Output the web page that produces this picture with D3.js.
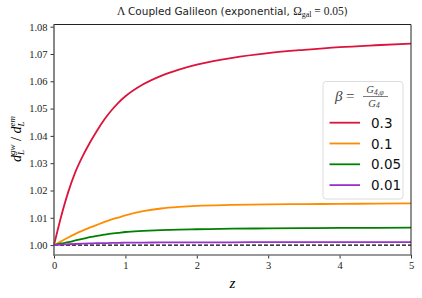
<!doctype html>
<html lang="en">
<head>
<meta charset="UTF-8">
<title>d3</title>
<script src="https://d3js.org/d3.v7.min.js"></script>
<style>
  body { margin: 0; background: #fff; }
  .tick text { font-family: "Liberation Serif", "DejaVu Serif", serif; font-size: 10.5px; fill: #222; }
  .math { font-family: "Liberation Serif", "DejaVu Serif", serif; font-style: italic; }
</style>
</head>
<body>
<div class="canvas"></div>
<script>
  // values
  const zs = [0, 0.1, 0.2, 0.3, 0.4, 0.5, 0.6, 0.7, 0.8, 0.9, 1, 1.25, 1.5, 1.75, 2, 2.5, 3, 3.5, 4, 4.5, 5];
  const beta03 = [1.0, 1.0105, 1.0195, 1.0268, 1.0325, 1.0374, 1.0418, 1.0458, 1.0492, 1.0521, 1.0545, 1.0589, 1.062, 1.0643, 1.0661, 1.0686, 1.0703, 1.0715, 1.0725, 1.0732, 1.0738];
  const beta01 = [1.0, 1.0014, 1.0028, 1.0041, 1.0053, 1.0064, 1.0074, 1.0084, 1.0093, 1.0101, 1.0109, 1.0124, 1.0134, 1.014, 1.0144, 1.0147, 1.0149, 1.015, 1.0151, 1.0152, 1.0153];
  const beta005 = [1.0, 1.0006, 1.0011, 1.0017, 1.0023, 1.0029, 1.0034, 1.0038, 1.0042, 1.0045, 1.0048, 1.0052, 1.0055, 1.0057, 1.0058, 1.006, 1.0061, 1.0062, 1.0063, 1.0063, 1.0064];
  const beta001 = [1.0, 1.0002, 1.0003, 1.0004, 1.0005, 1.0006, 1.0007, 1.0007, 1.0008, 1.0008, 1.0009, 1.0009, 1.001, 1.001, 1.001, 1.001, 1.0011, 1.0011, 1.0011, 1.0011, 1.0011];
  const labels = ['0.3', '0.1', '0.05', '0.01'];
  const colors = ['crimson', 'darkorange', 'green', 'darkorchid'];
  const xTicks = [0, 1, 2, 3, 4, 5];
  const yTicks = [1.00, 1.01, 1.02, 1.03, 1.04, 1.05, 1.06, 1.07, 1.08];

  const series = [beta03, beta01, beta005, beta001];

  const svg = d3.select('.canvas')
    .append('svg')
    .attr('width', 422)
    .attr('height', 298)

  const x = d3.scaleLinear().domain([0, 5]).range([54, 411]);
  const y = d3.scaleLinear().domain([0.99637, 1.0808]).range([255, 24.5]);

  // curves
  const line = d3.line()
    .x((d, i) => x(zs[i]))
    .y(d => y(d))
    .curve(d3.curveMonotoneX);

  svg.append('line')
    .attr('x1', x(0)).attr('x2', x(5))
    .attr('y1', y(1)).attr('y2', y(1))
    .attr('stroke', '#000')
    .attr('stroke-width', 1.2)
    .attr('stroke-dasharray', '4,2');

  svg.selectAll('path.curve')
    .data(series)
    .join('path')
    .attr('class', 'curve')
    .attr('d', line)
    .attr('fill', 'none')
    .attr('stroke', (d, i) => colors[i])
    .attr('stroke-width', 1.8)

  // axes
  const xAxis = svg.append('g')
    .attr('transform', 'translate(0,255)')
    .call(d3.axisBottom(x).tickValues(xTicks).tickFormat(d3.format('d')).tickSize(3.5).tickPadding(3));
  const yAxis = svg.append('g')
    .attr('transform', 'translate(54,0)')
    .call(d3.axisLeft(y).tickValues(yTicks).tickFormat(d3.format('.2f')).tickSize(3.5).tickPadding(3));

  [xAxis, yAxis].forEach(a => {
    a.select('.domain').remove();
    a.selectAll('.tick line').attr('stroke', '#333');
  });

  // frame
  svg.append('line').attr('x1', 54).attr('x2', 411).attr('y1', 24.5).attr('y2', 24.5).attr('stroke', '#222');
  svg.append('line').attr('x1', 411).attr('x2', 411).attr('y1', 24.5).attr('y2', 255).attr('stroke', '#222');
  svg.append('line').attr('x1', 54).attr('x2', 54).attr('y1', 24).attr('y2', 255.7).attr('stroke', '#555').attr('stroke-width', 1.4);
  svg.append('line').attr('x1', 53.3).attr('x2', 411).attr('y1', 255).attr('y2', 255).attr('stroke', '#777').attr('stroke-width', 1.6);

  // title
  const title = svg.append('text')
    .attr('x', 232.5).attr('y', 15)
    .attr('text-anchor', 'middle')
    .attr('font-family', 'DejaVu Sans, sans-serif')
    .attr('font-size', '10.5px')
    .attr('fill', '#222');
  title.append('tspan').attr('font-family', 'Liberation Serif, serif').attr('font-size', '11.5px').text('Λ ');
  title.append('tspan').text('Coupled Galileon (exponential, ');
  title.append('tspan').attr('font-family', 'Liberation Serif, serif').attr('font-size', '11.5px').text('Ω');
  title.append('tspan').attr('font-family', 'Liberation Serif, serif').attr('font-size', '8px').attr('dy', 2).text('gal');
  title.append('tspan').attr('font-family', 'Liberation Serif, serif').attr('font-size', '11.5px').attr('dy', -2).text(' = 0.05');
  title.append('tspan').text(')');

  // axis labels
  svg.append('text')
    .attr('class', 'math')
    .attr('x', 232.5).attr('y', 288)
    .attr('text-anchor', 'middle')
    .attr('font-size', '15px')
    .text('z');

  const yl = svg.append('text')
    .attr('class', 'math')
    .attr('transform', 'translate(21,139) rotate(-90)')
    .attr('text-anchor', 'middle')
    .attr('font-size', '14px');
  yl.append('tspan').text('d');
  yl.append('tspan').attr('font-size', '9px').attr('dy', 3).text('L');
  yl.append('tspan').attr('font-size', '9px').attr('dx', -5).attr('dy', -9.5).text('gw');
  yl.append('tspan').attr('font-style', 'normal').attr('dy', 6.5).text(' / ');
  yl.append('tspan').text('d');
  yl.append('tspan').attr('font-size', '9px').attr('dy', 3).text('L');
  yl.append('tspan').attr('font-size', '9px').attr('dx', -5).attr('dy', -9.5).text('em');

  // legend
  const lg = svg.append('g');
  lg.append('rect')
    .attr('x', 323).attr('y', 81.5).attr('width', 80).attr('height', 117.5)
    .attr('rx', 3)
    .attr('fill', '#fff').attr('fill-opacity', 0.85)
    .attr('stroke', '#ddd');

  lg.append('text').attr('class', 'math').attr('x', 335).attr('y', 101)
    .attr('font-size', '15px').attr('fill', '#444').text('β');
  lg.append('text').attr('x', 346).attr('y', 101)
    .attr('font-family', 'Liberation Serif, serif')
    .attr('font-size', '15px').attr('fill', '#444').text('=');
  const num = lg.append('text').attr('class', 'math').attr('x', 375).attr('y', 93)
    .attr('text-anchor', 'middle').attr('font-size', '10.5px').attr('fill', '#444');
  num.append('tspan').text('G');
  num.append('tspan').attr('font-size', '7.5px').attr('dy', 1.5).text('4,φ');
  lg.append('line').attr('x1', 363).attr('x2', 388).attr('y1', 96.5).attr('y2', 96.5)
    .attr('stroke', '#444').attr('stroke-width', 0.7);
  const den = lg.append('text').attr('class', 'math').attr('x', 374).attr('y', 106.5)
    .attr('text-anchor', 'middle').attr('font-size', '10.5px').attr('fill', '#444');
  den.append('tspan').text('G');
  den.append('tspan').attr('font-size', '7.5px').attr('dy', 1.5).text('4');

  const rows = lg.selectAll('g.row')
    .data(labels)
    .join('g')
    .attr('class', 'row')
    .attr('transform', (d, i) => `translate(0,${122.7 + i * 20.8})`);
  rows.append('line')
    .attr('x1', 329.5).attr('x2', 360)
    .attr('stroke', (d, i) => colors[i])
    .attr('stroke-width', 1.8);
  rows.append('text')
    .attr('x', 371).attr('y', 5)
    .attr('font-family', 'DejaVu Sans, sans-serif')
    .attr('font-size', '13.5px')
    .attr('fill', '#111')
    .text(d => d);
</script>
</body>
</html>
